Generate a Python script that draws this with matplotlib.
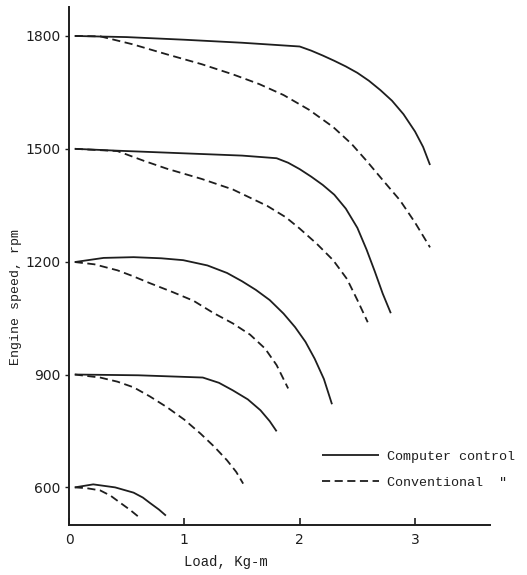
import matplotlib
matplotlib.use("Agg")
import matplotlib.pyplot as plt

# Computer control curves (load Kg-m, engine speed rpm)
cc_1800_x = [0.05, 0.5, 1.0, 1.5, 2.0, 2.1, 2.2, 2.3, 2.4, 2.5, 2.6, 2.7, 2.8, 2.9, 3.0, 3.07, 3.13]
cc_1800_y = [1800, 1797, 1790, 1782, 1772, 1761, 1748, 1734, 1719, 1702, 1681, 1656, 1628, 1592, 1546, 1505, 1457]
cv_1800_x = [0.05, 0.27, 0.55, 0.85, 1.15, 1.42, 1.65, 1.86, 2.08, 2.29, 2.45, 2.58, 2.72, 2.87, 3.00, 3.13]
cv_1800_y = [1800, 1799, 1778, 1751, 1725, 1698, 1672, 1643, 1604, 1558, 1513, 1468, 1417, 1363, 1304, 1238]

cc_1500_x = [0.05, 0.42, 1.0, 1.50, 1.80, 1.90, 2.0, 2.10, 2.20, 2.30, 2.40, 2.50, 2.58, 2.65, 2.72, 2.79]
cc_1500_y = [1500, 1495, 1488, 1482, 1475, 1463, 1446, 1426, 1404, 1378, 1341, 1290, 1232, 1175, 1115, 1063]
cv_1500_x = [0.05, 0.42, 0.65, 0.85, 1.15, 1.42, 1.72, 1.88, 2.0, 2.15, 2.29, 2.41, 2.50, 2.59]
cv_1500_y = [1500, 1494, 1468, 1447, 1420, 1392, 1348, 1318, 1288, 1247, 1204, 1154, 1098, 1039]

cc_1200_x = [0.05, 0.3, 0.56, 0.80, 0.99, 1.20, 1.37, 1.50, 1.62, 1.74, 1.86, 1.96, 2.05, 2.13, 2.21, 2.28]
cc_1200_y = [1199, 1210, 1212, 1209, 1204, 1190, 1170, 1148, 1125, 1098, 1062, 1026, 987, 942, 888, 821]
cv_1200_x = [0.05, 0.22, 0.42, 0.55, 0.70, 0.90, 1.08, 1.25, 1.42, 1.57, 1.70, 1.80, 1.90]
cv_1200_y = [1199, 1193, 1177, 1162, 1143, 1119, 1096, 1064, 1036, 1006, 969, 925, 863]

cc_900_x = [0.05, 0.6, 1.16, 1.30, 1.42, 1.55, 1.66, 1.74, 1.80]
cc_900_y = [900, 898, 892, 878, 858, 834, 805, 776, 749]
cv_900_x = [0.05, 0.27, 0.42, 0.56, 0.70, 0.85, 1.00, 1.14, 1.26, 1.37, 1.45, 1.51]
cv_900_y = [900, 892, 881, 866, 842, 813, 780, 743, 708, 672, 641, 610]

cc_600_x = [0.05, 0.21, 0.40, 0.56, 0.64, 0.70, 0.78, 0.84]
cc_600_y = [600, 608, 600, 586, 573, 559, 541, 525]
cv_600_x = [0.05, 0.15, 0.27, 0.36, 0.44, 0.53, 0.61]
cv_600_y = [600, 598, 592, 578, 560, 540, 520]

x_ticks = [0, 1, 2, 3]
y_ticks = [600, 900, 1200, 1500, 1800]
legend_labels = ["Computer control", "Conventional  \u2033"]

color = "#1e1e1e"
mono = ["Liberation Mono", "DejaVu Sans Mono"]

fig = plt.figure(figsize=(5.27, 5.75), dpi=100)
ax = fig.add_axes([69/527, 1 - 525/575, 421/527, 518/575])

solid_sets = [(cc_1800_x, cc_1800_y), (cc_1500_x, cc_1500_y), (cc_1200_x, cc_1200_y),
              (cc_900_x, cc_900_y), (cc_600_x, cc_600_y)]
dash_sets = [(cv_1800_x, cv_1800_y), (cv_1500_x, cv_1500_y), (cv_1200_x, cv_1200_y),
             (cv_900_x, cv_900_y), (cv_600_x, cv_600_y)]

for i, (xs, ys) in enumerate(solid_sets):
    ax.plot(xs, ys, color=color, lw=1.3, solid_capstyle="butt", solid_joinstyle="round",
            label=legend_labels[0] if i == 0 else None)
for i, (xs, ys) in enumerate(dash_sets):
    ax.plot(xs, ys, color=color, lw=1.3, dashes=(4.5, 2.5),
            label=legend_labels[1] if i == 0 else None)

ax.set_xlim(0, 3.65)
ax.set_ylim(500, 1877)
ax.set_xticks(x_ticks)
ax.set_yticks(y_ticks)
ax.spines["top"].set_visible(False)
ax.spines["right"].set_visible(False)
for s in ["left", "bottom"]:
    ax.spines[s].set_color(color)
    ax.spines[s].set_linewidth(1.4)
ax.tick_params(axis="x", direction="in", length=5, width=1.2, colors=color, labelsize=10, pad=6)
ax.tick_params(axis="y", direction="out", length=3, width=1.0, colors=color, labelsize=10, pad=3)
for lab in ax.get_xticklabels() + ax.get_yticklabels():
    lab.set_family(["DejaVu Sans"])

ax.set_xlabel("Load, Kg-m", family=mono, fontsize=10, color=color)
ax.set_ylabel("Engine speed, rpm", family=mono, fontsize=9.5, color=color)
ax.xaxis.set_label_coords(0.373, -0.058)
ax.yaxis.set_label_coords(-0.112, 0.44)

leg = ax.legend(loc="upper left", bbox_to_anchor=(0.572, 0.167), frameon=False,
                handlelength=4.3, handletextpad=0.6, labelspacing=1.05,
                prop={"family": mono + ["DejaVu Sans"], "size": 9.6})
for t in leg.get_texts():
    t.set_color(color)

fig.savefig("out.png", dpi=100, facecolor="white")
